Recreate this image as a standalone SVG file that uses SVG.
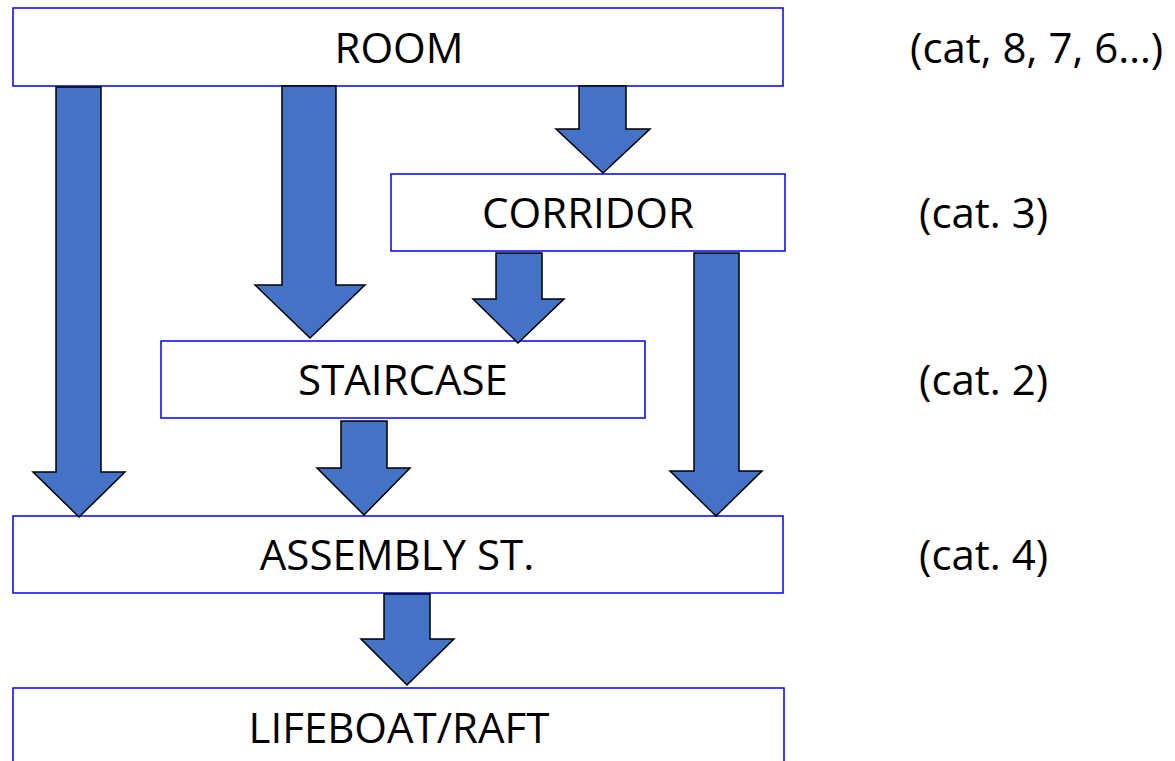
<svg xmlns="http://www.w3.org/2000/svg" width="1175" height="761" viewBox="0 0 1175 761">
<style>
.box{fill:#fff;stroke:#0000ff;stroke-width:1.5}
.arr{fill:#4472c4;stroke:#000;stroke-width:1.5;stroke-linejoin:miter}
.t{font-family:"Open Sans","Liberation Sans",sans-serif;font-size:42px;fill:#000}
.c{text-anchor:middle}
</style>
<rect width="1175" height="761" fill="#fff"/>
<g id="room"><rect class="box" x="13" y="8" width="770" height="78"/><text class="t c" x="399" y="63">ROOM</text></g>
<g id="corridor"><rect class="box" x="391" y="174" width="394" height="77"/><text class="t c" x="588" y="228">CORRIDOR</text></g>
<g id="staircase"><rect class="box" x="161" y="341" width="484" height="77"/><text class="t c" x="403" y="395">STAIRCASE</text></g>
<g id="assembly"><rect class="box" x="13" y="516" width="770" height="77"/><text class="t c" x="397" y="570">ASSEMBLY ST.</text></g>
<g id="lifeboat"><rect class="box" x="13" y="688" width="771" height="100"/><text class="t c" x="399" y="743">LIFEBOAT/RAFT</text></g>
<g id="labels">
<text class="t" x="910" y="63">(cat, 8, 7, 6…)</text>
<text class="t" x="919" y="228">(cat. 3)</text>
<text class="t" x="919" y="395">(cat. 2)</text>
<text class="t" x="919" y="570">(cat. 4)</text>
</g>
<g id="connectors">
<path class="arr" d="M56,87 H101 V472 H125 L79,517 L33,472 H56 Z"/>
<path class="arr" d="M282,86 H336 V285 H365 L310,338 L255,285 H282 Z"/>
<path class="arr" d="M579,86 H626 V129 H650 L603,173 L556,129 H579 Z"/>
<path class="arr" d="M496,253 H542 V299 H564 L518,343 L473,299 H496 Z"/>
<path class="arr" d="M694,253 H739 V471 H762 L716,516 L670,471 H694 Z"/>
<path class="arr" d="M341,421 H387 V468 H410 L364,515 L317,468 H341 Z"/>
<path class="arr" d="M384,594 H430 V639 H454 L407,685 L361,639 H384 Z"/>
</g>
</svg>
